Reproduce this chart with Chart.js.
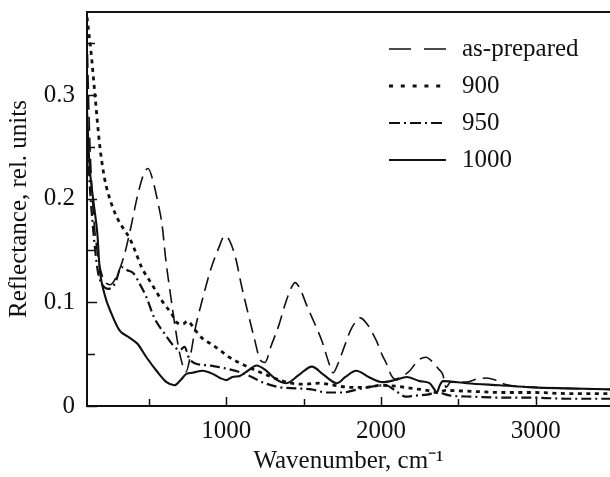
<!DOCTYPE html>
<html>
<head>
<meta charset="utf-8">
<title>Reflectance spectra</title>
<script src="https://cdn.jsdelivr.net/npm/chart.js"></script>
<style>
  html, body { margin: 0; padding: 0; background: #fff; }
  #wrap { width: 610px; height: 477px; }
</style>
</head>
<body>
<div id="wrap"><canvas id="myChart" width="610" height="477"></canvas></div>
<script>
// wavenumber (cm-1) and reflectance, one pair of arrays per curve
const asPreparedX = [100, 115, 135, 165, 200, 250, 300, 340, 380, 430, 470, 495, 530, 560, 585, 610, 640, 670, 700, 740, 770, 800, 850, 900, 950, 990, 1020, 1060, 1100, 1140, 1180, 1215, 1250, 1290, 1340, 1380, 1420, 1445, 1480, 1520, 1570, 1620, 1660, 1690, 1720, 1765, 1800, 1830, 1865, 1905, 1970, 2005, 2035, 2065, 2090, 2130, 2186, 2240, 2290, 2330, 2370, 2400, 2420, 2450, 2550, 2620, 2680, 2740, 2800, 2900, 3000, 3200, 3480];
const asPreparedY = [0.36, 0.27, 0.20, 0.15, 0.125, 0.117, 0.128, 0.145, 0.170, 0.205, 0.225, 0.229, 0.215, 0.195, 0.175, 0.140, 0.107, 0.076, 0.050, 0.033, 0.050, 0.075, 0.105, 0.132, 0.152, 0.164, 0.160, 0.143, 0.115, 0.090, 0.066, 0.046, 0.042, 0.058, 0.078, 0.098, 0.114, 0.119, 0.112, 0.097, 0.080, 0.062, 0.043, 0.032, 0.040, 0.058, 0.072, 0.080, 0.085, 0.080, 0.063, 0.050, 0.041, 0.030, 0.026, 0.028, 0.034, 0.044, 0.047, 0.043, 0.036, 0.030, 0.018, 0.023, 0.023, 0.026, 0.027, 0.025, 0.021, 0.019, 0.018, 0.017, 0.016];

const a900X = [100, 127, 155, 181, 213, 258, 300, 340, 375, 410, 452, 517, 582, 646, 685, 720, 750, 795, 847, 900, 957, 1010, 1067, 1150, 1260, 1345, 1420, 1500, 1600, 1700, 1800, 1900, 2000, 2100, 2200, 2300, 2360, 2420, 2600, 2800, 3000, 3200, 3480];
const a900Y = [0.375, 0.34, 0.294, 0.253, 0.220, 0.195, 0.180, 0.170, 0.162, 0.150, 0.134, 0.118, 0.102, 0.089, 0.080, 0.079, 0.082, 0.074, 0.065, 0.060, 0.054, 0.048, 0.043, 0.037, 0.030, 0.025, 0.022, 0.021, 0.022, 0.020, 0.018, 0.018, 0.020, 0.019, 0.017, 0.015, 0.013, 0.015, 0.014, 0.013, 0.013, 0.012, 0.012];

const a950X = [100, 115, 140, 170, 200, 240, 280, 323, 360, 400, 440, 484, 535, 600, 660, 700, 730, 760, 800, 900, 1000, 1080, 1150, 1250, 1350, 1450, 1550, 1650, 1750, 1850, 1950, 2030, 2100, 2160, 2220, 2300, 2360, 2450, 2600, 2800, 3000, 3200, 3480];
const a950Y = [0.27, 0.22, 0.17, 0.13, 0.117, 0.113, 0.118, 0.134, 0.131, 0.128, 0.118, 0.105, 0.085, 0.070, 0.058, 0.054, 0.057, 0.046, 0.041, 0.039, 0.036, 0.033, 0.029, 0.022, 0.018, 0.017, 0.016, 0.013, 0.013, 0.016, 0.019, 0.020, 0.014, 0.009, 0.010, 0.011, 0.013, 0.010, 0.009, 0.008, 0.008, 0.007, 0.007];

const a1000X = [100, 115, 141, 167, 181, 213, 258, 310, 374, 426, 484, 549, 614, 666, 705, 743, 782, 847, 912, 960, 1002, 1040, 1087, 1140, 1196, 1250, 1320, 1390, 1470, 1553, 1630, 1714, 1770, 1840, 1920, 2011, 2090, 2166, 2250, 2314, 2345, 2360, 2380, 2400, 2553, 2766, 2980, 3200, 3480];
const a1000Y = [0.285, 0.235, 0.198, 0.166, 0.134, 0.108, 0.089, 0.073, 0.066, 0.060, 0.047, 0.034, 0.023, 0.020, 0.025, 0.031, 0.032, 0.034, 0.031, 0.027, 0.025, 0.028, 0.029, 0.034, 0.039, 0.035, 0.026, 0.022, 0.030, 0.038, 0.030, 0.022, 0.028, 0.034, 0.028, 0.023, 0.025, 0.028, 0.024, 0.022, 0.016, 0.013, 0.020, 0.024, 0.022, 0.020, 0.018, 0.017, 0.016];

const seriesNames = ['as-prepared', '900', '950', '1000'];
const xTicks = [1000, 2000, 3000];
const xMinorTicks = [500, 1500, 2500];
const yTicks = [0, 0.1, 0.2, 0.3];
const yMinorTicks = [0.05, 0.15, 0.25, 0.35];

const ink = '#111';
const fontFamily = '"Liberation Serif", "Times New Roman", serif';

const toPoints = (xs, ys) => xs.map((x, i) => ({ x: x, y: ys[i] }));

// line look per curve: plot dash, legend dash, width
const styles = [
    { dash: [14, 7], legendDash: [22, 13], width: 1.6 },
    { dash: [4, 4.5], legendDash: [4, 7.8], width: 2.8 },
    { dash: [10, 4, 2, 4], legendDash: [11, 4, 2, 4], width: 2.2 },
    { dash: [], legendDash: [], width: 2.1 }
];

const allData = [
    toPoints(asPreparedX, asPreparedY),
    toPoints(a900X, a900Y),
    toPoints(a950X, a950Y),
    toPoints(a1000X, a1000Y)
];

// top frame line and inward tick marks
const frame = {
    id: 'frame',
    afterDraw(chart) {
        const { ctx, chartArea: a, scales: { x, y } } = chart;
        ctx.save();
        ctx.strokeStyle = ink;
        ctx.lineWidth = 2;
        ctx.beginPath();
        ctx.moveTo(a.left - 1, a.top);
        ctx.lineTo(a.right, a.top);
        ctx.stroke();

        ctx.lineWidth = 1.5;
        ctx.beginPath();
        yTicks.concat(yMinorTicks).forEach(v => {
            const py = Math.round(y.getPixelForValue(v)) + 0.5;
            const len = yTicks.includes(v) ? 10 : 8;
            ctx.moveTo(a.left, py);
            ctx.lineTo(a.left + len, py);
        });
        xTicks.concat(xMinorTicks).forEach(v => {
            const px = Math.round(x.getPixelForValue(v)) + 0.5;
            const len = xTicks.includes(v) ? 9 : 7;
            ctx.moveTo(px, a.bottom);
            ctx.lineTo(px, a.bottom - len);
        });
        ctx.stroke();
        ctx.restore();
    }
};

// legend drawn inside the plot, top right
const innerLegend = {
    id: 'innerLegend',
    afterDraw(chart) {
        const { ctx, chartArea: a } = chart;
        ctx.save();
        ctx.font = '25px ' + fontFamily;
        ctx.fillStyle = ink;
        ctx.strokeStyle = ink;
        ctx.textBaseline = 'middle';
        seriesNames.forEach((name, i) => {
            const rowY = a.top + 37 + i * 37;
            const x0 = a.right - 221;
            ctx.lineWidth = styles[i].width;
            ctx.setLineDash(styles[i].legendDash);
            ctx.beginPath();
            ctx.moveTo(x0, rowY);
            ctx.lineTo(x0 + 57, rowY);
            ctx.stroke();
            ctx.setLineDash([]);
            ctx.fillText(name, x0 + 73, rowY);
        });
        ctx.restore();
    }
};

Chart.defaults.font.family = fontFamily;
Chart.defaults.font.size = 25;
Chart.defaults.color = ink;

const ctx = document.getElementById('myChart').getContext('2d');
const myChart = new Chart(ctx, {
    type: 'scatter',
    data: {
        datasets: seriesNames.map((name, i) => ({
            label: name,
            data: allData[i],
            showLine: true,
            fill: false,
            pointRadius: 0,
            borderColor: ink,
            borderWidth: styles[i].width,
            borderDash: styles[i].dash,
            cubicInterpolationMode: 'monotone'
        }))
    },
    options: {
        responsive: false,
        animation: false,
        layout: { padding: { top: 12, left: 0, right: 0, bottom: 0 } },
        plugins: {
            legend: { display: false },
            tooltip: { enabled: false }
        },
        scales: {
            x: {
                type: 'linear',
                min: 100,
                max: 3480,
                grid: { display: false, drawTicks: false },
                border: { display: true, color: ink, width: 2 },
                ticks: { padding: 10, autoSkip: false, maxRotation: 0, callback: v => String(v) },
                afterBuildTicks: s => { s.ticks = xTicks.map(v => ({ value: v })); },
                afterFit: s => {
                    s.height = 71;
                    s.paddingLeft = 0; s.paddingRight = 0;
                },
                title: {
                    display: true,
                    text: 'Wavenumber, cm\u207B\u00B9',
                    padding: { top: 0, bottom: 1 }
                }
            },
            y: {
                min: 0,
                max: 0.38,
                grid: { display: false, drawTicks: false },
                border: { display: true, color: ink, width: 2 },
                ticks: { padding: 12, autoSkip: false, callback: v => v === 0 ? '0' : v.toFixed(1) },
                afterBuildTicks: s => { s.ticks = yTicks.map(v => ({ value: v })); },
                afterFit: s => {
                    s.width = 87;
                    s.paddingTop = 0; s.paddingBottom = 0;
                },
                title: {
                    display: true,
                    text: 'Reflectance, rel. units',
                    padding: { top: 4, bottom: 0 }
                }
            }
        }
    },
    plugins: [frame, innerLegend]
});
</script>
</body>
</html>
